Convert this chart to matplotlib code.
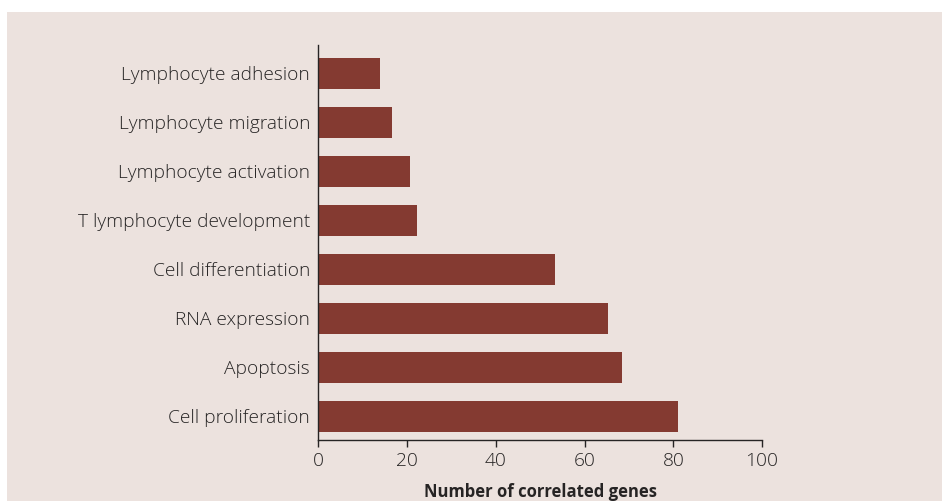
import matplotlib
matplotlib.use('Agg')
import matplotlib.pyplot as plt
from matplotlib.patches import Rectangle

# data, bottom to top
categories = ['Cell proliferation', 'Apoptosis', 'RNA expression',
              'Cell differentiation', 'T lymphocyte development',
              'Lymphocyte activation', 'Lymphocyte migration',
              'Lymphocyte adhesion']
genes = [81, 68.4, 65.2, 53.3, 22.2, 20.6, 16.5, 13.8]
xticks = [0, 20, 40, 60, 80, 100]

plt.rcParams['font.family'] = ['Open Sans', 'DejaVu Sans']
bg = '#ECE2DE'
ink = '#262424'

fig = plt.figure(figsize=(9.42, 5.01), dpi=100)
fig.patch.set_facecolor('white')
fig.patches.append(Rectangle((7/942, 0), 1, 1 - 12/501, transform=fig.transFigure,
                             facecolor=bg, edgecolor='none', zorder=-10))

ax = fig.add_axes([0.338, 0.1218, 0.471, 0.788])
ax.set_facecolor('none')
ax.barh(range(len(categories)), genes, height=0.63, color='#843A31')

ax.set_xlim(0, 100)
ax.set_ylim(-0.48, 7.57)
ax.set_xticks(xticks)
ax.set_yticks(range(len(categories)))
ax.set_yticklabels(categories)
ax.tick_params(axis='y', length=0, pad=6, labelsize=13.8, labelcolor=ink)
ax.tick_params(axis='x', direction='out', length=5, width=1, color=ink,
               pad=4, labelsize=13.8, labelcolor=ink)
for lab in ax.get_xticklabels() + ax.get_yticklabels():
    lab.set_fontweight('light')
for s in ['top', 'right']:
    ax.spines[s].set_visible(False)
for s in ['left', 'bottom']:
    ax.spines[s].set_color(ink)
    ax.spines[s].set_linewidth(1)
ax.set_xlabel('Number of correlated genes', fontsize=12, fontweight='bold',
              color=ink, labelpad=9)

fig.savefig('out.png', dpi=100, facecolor=fig.get_facecolor())
